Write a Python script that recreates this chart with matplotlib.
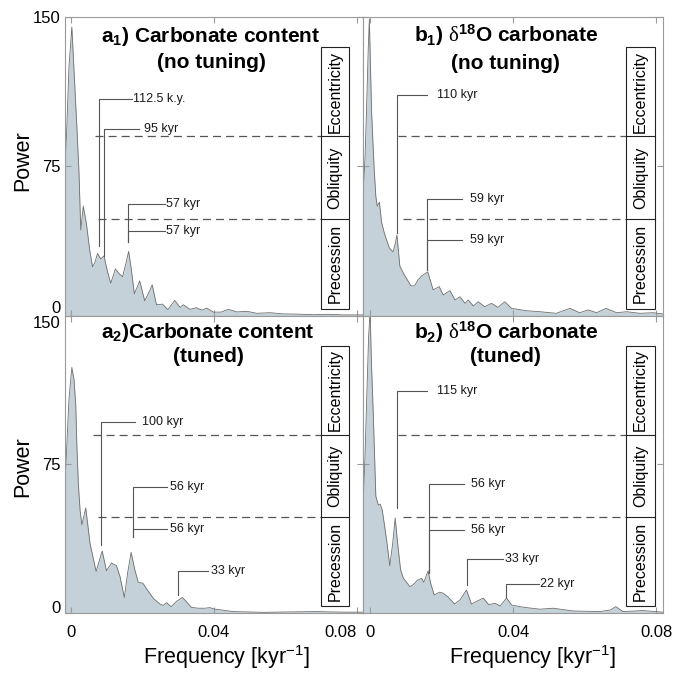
import matplotlib
matplotlib.use("Agg")
import matplotlib.pyplot as plt
import matplotlib.transforms as mtransforms
from matplotlib.patches import Rectangle

plt.rcParams["font.family"] = ["Liberation Sans", "DejaVu Sans"]
plt.rcParams["mathtext.fontset"] = "custom"
plt.rcParams["mathtext.rm"] = "Liberation Serif"
plt.rcParams["mathtext.sf"] = "Liberation Sans"
plt.rcParams["mathtext.bf"] = "Liberation Sans:bold"
plt.rcParams["mathtext.it"] = "Liberation Sans:italic"
plt.rcParams["lines.scale_dashes"] = False

# --- spectra (frequency in 1/kyr, power) ---
a1_freq = [-0.0018, -0.0012, -0.0006, 0.0002, 0.0009, 0.0016, 0.0022, 0.0027, 0.0034,
           0.0043, 0.0052, 0.0060, 0.0067, 0.0074, 0.0083, 0.0092, 0.0102, 0.0111,
           0.0124, 0.0135, 0.0144, 0.0153, 0.0161, 0.0168, 0.0177, 0.0184, 0.0192,
           0.0206, 0.0216, 0.0227, 0.0239, 0.0256, 0.0271, 0.0290, 0.0305, 0.0314,
           0.0333, 0.0351, 0.0366, 0.0380, 0.0398, 0.0420, 0.0440, 0.0464, 0.0492,
           0.0520, 0.0557, 0.0594, 0.0630, 0.0680, 0.0720, 0.0760, 0.0818]
a1_power = [70, 95, 125, 145, 120, 95, 72, 43, 55, 46, 33, 24.5, 27, 31.3, 28.5, 30, 22,
            16.3, 23.5, 21, 19.6, 26, 32.3, 24, 11, 14, 17.5, 7.5, 11, 15.5, 5.5, 5.8, 3,
            7.7, 4.2, 5.5, 3.2, 4, 2.8, 3.8, 1.8, 1.8, 3.2, 1.9, 2.2, 1.2, 1.5, 0.9, 0.8,
            0.5, 0.7, 0.4, 0.4]

b1_freq = [-0.0018, -0.0013, -0.0009, -0.0004, -0.0001, 0.0005, 0.0012, 0.0017, 0.0021,
           0.0027, 0.0033, 0.0040, 0.0047, 0.0055, 0.0065, 0.0071, 0.0076, 0.0084,
           0.0095, 0.0105, 0.0115, 0.0125, 0.0135, 0.0145, 0.0162, 0.0177, 0.0194,
           0.0205, 0.0224, 0.0238, 0.0252, 0.0266, 0.0275, 0.0289, 0.0303, 0.0321,
           0.0340, 0.0358, 0.0377, 0.0396, 0.0438, 0.0475, 0.0521, 0.0559, 0.0586,
           0.0610, 0.0633, 0.0660, 0.0689, 0.0717, 0.0754, 0.0791, 0.0818]
b1_power = [62, 80, 103, 135, 149, 103, 75, 60, 55, 57, 47, 42, 38, 34, 32, 36, 40.5, 25,
            21, 18, 15, 15, 18, 20, 22, 13, 14.6, 10.4, 12.6, 7.9, 9.5, 6.2, 7.9, 4.9, 7.0,
            4.5, 6.2, 4.2, 7.0, 3.7, 2.5, 2.0, 1.2, 3.7, 1.5, 2.9, 1.5, 3.7, 1.5, 2.0, 1.2,
            1.5, 0.9]

a2_freq = [-0.0018, -0.0012, -0.0006, 0.0002, 0.0008, 0.0013, 0.0016, 0.0020, 0.0025,
           0.0030, 0.0041, 0.0053, 0.0070, 0.0087, 0.0099, 0.0113, 0.0127, 0.0137,
           0.0149, 0.0158, 0.0168, 0.0178, 0.0188, 0.0201, 0.0216, 0.0230, 0.0249,
           0.0258, 0.0267, 0.0280, 0.0296, 0.0312, 0.0337, 0.0356, 0.0375, 0.0389,
           0.0400, 0.0454, 0.0540, 0.0600, 0.0690, 0.0760, 0.0818]
a2_power = [62, 85, 108, 124, 118, 105, 85, 66, 52, 44.5, 53, 35, 21, 31.3, 21.3, 25.2,
            23.9, 18.3, 7.8, 20, 30.6, 22, 15.5, 15, 11, 7.4, 4.5, 3.8, 5.2, 3.2, 6, 7.8,
            2.8, 2.4, 2.4, 2.7, 2.0, 0.7, 0.3, 0.5, 0.7, 0.4, 0.4]

b2_freq = [-0.0018, -0.0013, -0.0009, -0.0003, 0.0001, 0.0005, 0.0010, 0.0017, 0.0024,
           0.0029, 0.0035, 0.0047, 0.0056, 0.0064, 0.0071, 0.0078, 0.0086, 0.0094,
           0.0103, 0.0112, 0.0121, 0.0133, 0.0145, 0.0151, 0.0163, 0.0170, 0.0180,
           0.0195, 0.0205, 0.0218, 0.0237, 0.0252, 0.0270, 0.0284, 0.0300, 0.0317,
           0.0332, 0.0350, 0.0364, 0.0382, 0.0396, 0.0419, 0.0438, 0.0475, 0.0512,
           0.0568, 0.0642, 0.0672, 0.0687, 0.0707, 0.0763, 0.0818]
b2_power = [56, 80, 105, 140, 152, 125, 100, 59, 54.5, 55, 52, 37, 23.8, 35, 48, 35, 22,
            17.5, 15.5, 13.3, 14.2, 16.5, 17.5, 15.5, 21.3, 15, 9.1, 10.5, 10, 8.2, 4.5,
            6.6, 11.6, 4.5, 6, 7.5, 4.2, 4.9, 3.5, 7.6, 4, 3.2, 2.7, 1.9, 2.4, 1.0, 0.7,
            1.5, 3.2, 0.7, 1.2, 0.4]

# orbital bands (power axis) and their names
band_edges = [3.5, 48.5, 90, 135]
band_names = ["Precession", "Obliquity", "Eccentricity"]

x_ticks = [0, 0.04, 0.08]
x_ticklabels = ["0", "0.04", "0.08"]
y_ticks = [0, 75, 150]
y_ticklabels = ["0", "75", "150"]

# peak labels: (x of stem, stem bottom, stem top, end of arm, text x, text)
a1_marks = [(0.0078, 35.0, 108.8, 0.0170, 0.0174, "112.5 k.y."),
            (0.0092, 30.0, 93.8, 0.0191, 0.0204, "95 kyr"),
            (0.0160, 37.2, 56.1, 0.0263, 0.0266, "57 kyr"),
            (0.0160, 37.2, 42.7, 0.0263, 0.0266, "57 kyr")]
b1_marks = [(0.0075, 41.4, 110.8, 0.0159, 0.0187, "110 kyr"),
            (0.0161, 23.0, 58.6, 0.0258, 0.0280, "59 kyr"),
            (0.0161, 23.0, 38.0, 0.0258, 0.0280, "59 kyr")]
a2_marks = [(0.0083, 34.3, 96.3, 0.0179, 0.0198, "100 kyr"),
            (0.0172, 38.2, 63.8, 0.0268, 0.0277, "56 kyr"),
            (0.0172, 38.2, 42.3, 0.0268, 0.0277, "56 kyr"),
            (0.0300, 9.1, 21.2, 0.0384, 0.0393, "33 kyr")]
b2_marks = [(0.0075, 52.9, 112.1, 0.0159, 0.0187, "115 kyr"),
            (0.0165, 20.0, 65.2, 0.0264, 0.0284, "56 kyr"),
            (0.0165, 20.0, 41.9, 0.0264, 0.0284, "56 kyr"),
            (0.0272, 14.1, 27.1, 0.0372, 0.0377, "33 kyr"),
            (0.0380, 8.2, 14.6, 0.0473, 0.0476, "22 kyr")]

XLIM = (-0.0018, 0.0818)
FILL = "#c4d1d8"
LINE = "#6e6e6e"
FRAME = "#9a9a9a"
INK = "#555555"

fig = plt.figure(figsize=(6.76, 6.75), dpi=100)

panels = [
    dict(rect=[0.0957, 0.5323, 0.4417, 0.4425], f=a1_freq, p=a1_power, marks=a1_marks,
         t1=r"$\mathbf{a_1}$) Carbonate content", t2="(no tuning)", tx=0.49, ty=(0.936, 0.849),
         dash=(0.0067, 0.0076), box=(0.857, 0.953), row=0, col=0),
    dict(rect=[0.5374, 0.5323, 0.4430, 0.4425], f=b1_freq, p=b1_power, marks=b1_marks,
         t1=r"$\mathbf{b_1}$) $\mathrm{\delta}^{\mathbf{18}}$O carbonate", t2="(no tuning)",
         tx=0.476, ty=(0.94, 0.846), dash=(0.0080, 0.0094), box=(0.877, 0.973), row=0, col=1),
    dict(rect=[0.0957, 0.0919, 0.4417, 0.4400], f=a2_freq, p=a2_power, marks=a2_marks,
         t1=r"$\mathbf{a_2}$)Carbonate content", t2="(tuned)", tx=0.48, ty=(0.946, 0.862),
         dash=(0.0062, 0.0076), box=(0.857, 0.953), row=1, col=0),
    dict(rect=[0.5374, 0.0919, 0.4430, 0.4400], f=b2_freq, p=b2_power, marks=b2_marks,
         t1=r"$\mathbf{b_2}$) $\mathrm{\delta}^{\mathbf{18}}$O carbonate", t2="(tuned)",
         tx=0.476, ty=(0.946, 0.862), dash=(0.0080, 0.0094), box=(0.877, 0.973), row=1, col=1),
]

for pn in panels:
    ax = fig.add_axes(pn["rect"])
    ax.fill_between(pn["f"], pn["p"], 0, color=FILL, lw=0, zorder=1)
    ax.plot(pn["f"], pn["p"], color=LINE, lw=0.6, zorder=2)
    ax.set_xlim(*XLIM)
    ax.set_ylim(0, 150)

    for s in ax.spines.values():
        s.set_color(FRAME)
        s.set_linewidth(0.8)
    ax.set_xticks(x_ticks)
    ax.set_yticks(y_ticks)
    ax.tick_params(direction="in", length=4, width=0.8, color=FRAME, top=True, right=True,
                   labelsize=12, pad=3)
    ax.tick_params(axis="x", pad=9)

    if pn["row"] == 1:
        ax.set_xticklabels(x_ticklabels)
        if pn["col"] == 0:
            ax.get_xticklabels()[2].set_ha("right")
        ax.set_xlabel(r"Frequency [kyr$^{\mathsf{-1}}$]", fontsize=15.5)
        ax.xaxis.label.set_va("center")
        ax.xaxis.set_label_coords(0.54 if pn["col"] == 0 else 0.563, -0.15)
    else:
        ax.tick_params(labelbottom=False)

    if pn["col"] == 0:
        ax.set_yticklabels(y_ticklabels)
        labs = ax.get_yticklabels()
        if pn["row"] == 0:
            labs[0].set_va("bottom")
        else:
            labs[0].set_va("baseline")
            labs[2].set_va("top")
        ax.set_ylabel("Power", fontsize=15.5)
        ax.yaxis.label.set_va("center")
        ax.yaxis.set_label_coords(-0.14, 0.518 if pn["row"] == 0 else 0.493)
    else:
        ax.tick_params(labelleft=False)

    # titles
    ax.text(pn["tx"], pn["ty"][0], pn["t1"], transform=ax.transAxes, ha="center",
            va="center", fontsize=15, fontweight="bold", zorder=5)
    ax.text(pn["tx"], pn["ty"][1], pn["t2"], transform=ax.transAxes, ha="center",
            va="center", fontsize=15, fontweight="bold", zorder=5)

    # band box on the right
    bx0, bx1 = pn["box"]
    trans = mtransforms.blended_transform_factory(ax.transAxes, ax.transData)
    ax.add_patch(Rectangle((bx0, band_edges[0]), bx1 - bx0, band_edges[-1] - band_edges[0],
                           transform=trans, facecolor="white", edgecolor="#222222",
                           lw=0.8, zorder=4))
    for y in band_edges[1:-1]:
        ax.plot([bx0, bx1], [y, y], transform=trans, color="#222222", lw=0.8, zorder=4)
    for name, lo, hi in zip(band_names, band_edges[:-1], band_edges[1:]):
        ax.text((bx0 + bx1) / 2, (lo + hi) / 2, name, transform=trans, rotation=90,
                ha="center", va="center", fontsize=11.5, zorder=5)

    # dashed band boundaries
    box_left = XLIM[0] + bx0 * (XLIM[1] - XLIM[0])
    for x0, y in zip(pn["dash"], band_edges[2:0:-1]):
        ax.plot([x0, box_left], [y, y], color=INK, lw=0.9, dashes=(5.8, 3.6), zorder=3)

    # peak labels
    for x, y0, y1, x1, xt, label in pn["marks"]:
        ax.plot([x, x, x1], [y0, y1, y1], color=INK, lw=0.8, zorder=3)
        ax.text(xt, y1, label, ha="left", va="center", fontsize=9, color="#1a1a1a", zorder=5)

fig.savefig("out.png", dpi=100)
